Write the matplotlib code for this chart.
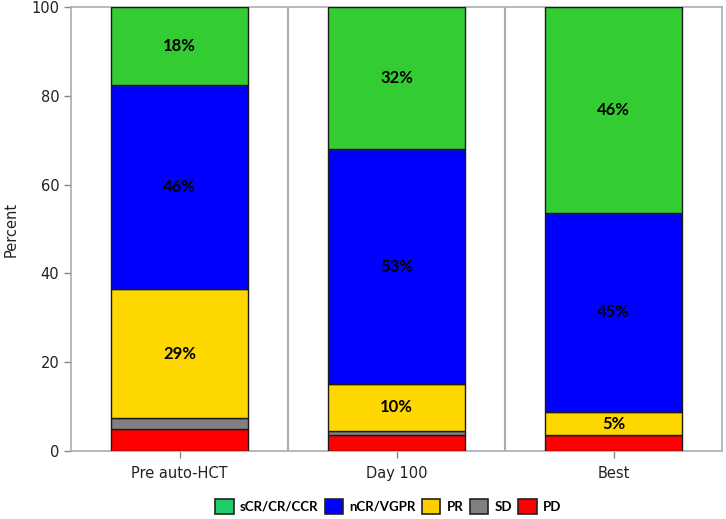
import matplotlib
matplotlib.use("Agg")
import matplotlib.pyplot as plt
from matplotlib.patches import Patch
import numpy as np

categories = ["Pre auto-HCT", "Day 100", "Best"]
series_names = ["PD", "SD", "PR", "nCR/VGPR", "sCR/CR/CCR"]
pd_vals = [5.0, 3.6, 3.6]
sd_vals = [2.5, 1.0, 0.0]
pr_vals = [28.9, 10.4, 5.1]
ncr_vals = [46.0, 53.0, 45.0]
scr_vals = [17.6, 32.0, 46.3]
yticks = [0, 20, 40, 60, 80, 100]

colors = {"PD": "#FF0000", "SD": "#808080", "PR": "#FFD700",
          "nCR/VGPR": "#0000FF", "sCR/CR/CCR": "#33CC33"}
legend_colors = {"PD": "#FF0000", "SD": "#808080", "PR": "#FFCC00",
                 "nCR/VGPR": "#0000FF", "sCR/CR/CCR": "#1ECC6A"}
labeled = {"PR", "nCR/VGPR", "sCR/CR/CCR"}

fig = plt.figure(figsize=(7.26, 5.19), dpi=100)
ax = fig.add_axes([0.0978, 0.131, 0.8967, 0.8555])

x = np.arange(len(categories))
series = [pd_vals, sd_vals, pr_vals, ncr_vals, scr_vals]
bottom = np.zeros(len(categories))
for name, vals in zip(series_names, series):
    vals = np.array(vals)
    ax.bar(x, vals, 0.63, bottom=bottom, color=colors[name],
           edgecolor="#1a1a1a", linewidth=1.0, zorder=3)
    if name in labeled:
        for xi, b, v in zip(x, bottom, vals):
            ax.text(xi, b + v / 2, f"{v:.0f}%", ha="center", va="center",
                    fontsize=12, fontweight="bold", family="Lato", zorder=4)
    bottom += vals

ax.set_xlim(-0.5, 2.5)
ax.set_ylim(0, 100)
for xs in [0.5, 1.5]:
    ax.axvline(xs, color="#a9adb2", linewidth=1.5, zorder=1)
ax.set_xticks(x)
ax.set_xticklabels(categories, fontsize=10.5, color="#222222")
ax.set_yticks(yticks)
ax.set_yticklabels([str(t) for t in yticks], fontsize=10.5, color="#222222")
ax.set_ylabel("Percent", fontsize=10.5, color="#222222", labelpad=9)
for s in ax.spines.values():
    s.set_color("#a9adb2")
    s.set_linewidth(1.2)
ax.tick_params(axis="both", colors="#888888", length=5, width=1)
ax.tick_params(axis="x", labelcolor="#222222", pad=6)
ax.tick_params(axis="y", labelcolor="#222222")

handles = [Patch(facecolor=legend_colors[n], edgecolor="#222222", linewidth=1.2, label=n)
           for n in ["sCR/CR/CCR", "nCR/VGPR", "PR", "SD", "PD"]]
fig.legend(handles=handles, loc="center", bbox_to_anchor=(0.535, 0.024), ncol=5,
           frameon=False, prop={"family": "Lato", "weight": "bold", "size": 9.5},
           handlelength=1.4, handleheight=1.4, handletextpad=0.5, columnspacing=0.45)

fig.savefig("out.png", dpi=100)
